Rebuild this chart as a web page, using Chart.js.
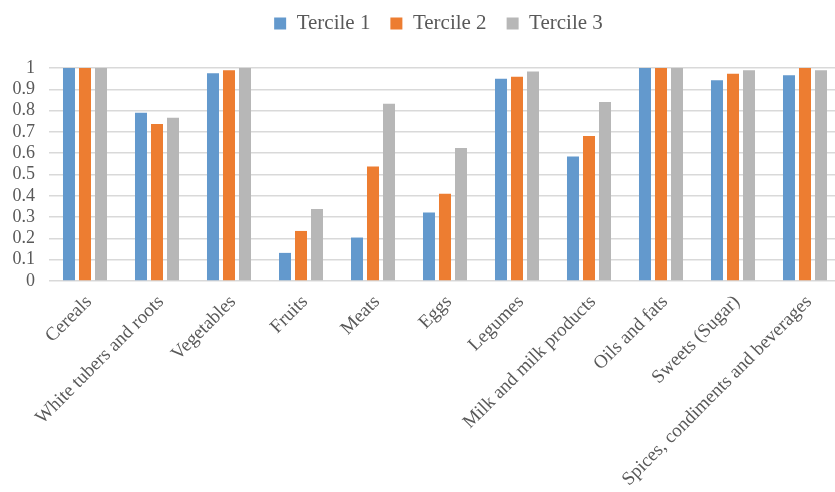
<!DOCTYPE html>
<html>
<head>
<meta charset="utf-8">
<script src="https://cdn.jsdelivr.net/npm/chart.js@4/dist/chart.umd.min.js"></script>
<style>
  html, body { margin: 0; padding: 0; background: #fff; overflow: hidden; }
  #wrap { width: 835px; height: 492px; overflow: hidden; position: relative; }
  #grafico { position: absolute; left: 0; top: 0; }
</style>
</head>
<body>
<div id="wrap"><canvas id="grafico" width="845" height="492"></canvas></div>
<script>
// Categorias (grupos de alimentos)
let categorias = [
  "Cereals",
  "White tubers and roots",
  "Vegetables",
  "Fruits",
  "Meats",
  "Eggs",
  "Legumes",
  "Milk and milk products",
  "Oils and fats",
  "Sweets (Sugar)",
  "Spices, condiments and beverages",
];

// Valores
let tercil1 = [1, 0.79, 0.975, 0.132, 0.204, 0.322, 0.95, 0.584, 1, 0.943, 0.966];
let tercil2 = [1, 0.737, 0.99, 0.235, 0.537, 0.41, 0.959, 0.681, 1, 0.973, 1];
let tercil3 = [1, 0.766, 1, 0.338, 0.832, 0.625, 0.983, 0.84, 1, 0.99, 0.99];

let nomesSeries = ["Tercile 1", "Tercile 2", "Tercile 3"];
let cores = ["#6399CD", "#ED7D31", "#B7B7B7"];

let fonte = "'Liberation Serif', 'Times New Roman', serif";
let corTexto = "#595959";

// Desloca a legenda (centro no eixo do gráfico do Excel, mais acima)
let moverLegenda = {
  id: "moverLegenda",
  afterLayout: (chart) => {
    let leg = chart.legend;
    leg.left += 18;
    leg.right += 18;
    leg.top -= 24;
    leg.bottom -= 24;
  },
};

let barras = new Chart(document.getElementById("grafico"), {
  type: "bar",
  data: {
    labels: categorias,
    datasets: [tercil1, tercil2, tercil3].map((valores, i) => ({
      label: nomesSeries[i],
      data: valores,
      backgroundColor: cores[i],
      borderWidth: 0,
      categoryPercentage: 0.667,
      barPercentage: 0.75,
    })),
  },
  plugins: [moverLegenda],
  options: {
    responsive: false,
    animation: false,
    layout: {
      padding: { left: 0, right: 4, top: 17, bottom: 0 },
    },
    plugins: {
      legend: {
        position: "top",
        labels: {
          font: { family: fonte, size: 21 },
          color: corTexto,
          boxWidth: 12,
          boxHeight: 12,
          padding: 20,
        },
      },
      tooltip: { enabled: false },
    },
    scales: {
      x: {
        grid: { display: false },
        border: { display: false },
        ticks: {
          font: { family: fonte, size: 19 },
          color: corTexto,
          minRotation: 45,
          maxRotation: 45,
          autoSkip: false,
          padding: 2,
          labelOffset: 4,
        },
        afterFit: (escala) => {
          escala.height = 211;
        },
      },
      y: {
        min: 0,
        max: 1,
        grid: { color: "#D9D9D9", lineWidth: 1.5, drawTicks: false },
        border: { display: false },
        ticks: {
          stepSize: 0.1,
          autoSkip: false,
          font: { family: fonte, size: 18 },
          color: corTexto,
          padding: 14,
          callback: (v) => +v.toFixed(1),
        },
        afterFit: (escala) => {
          escala.width = 49;
        },
      },
    },
  },
});
</script>
</body>
</html>
